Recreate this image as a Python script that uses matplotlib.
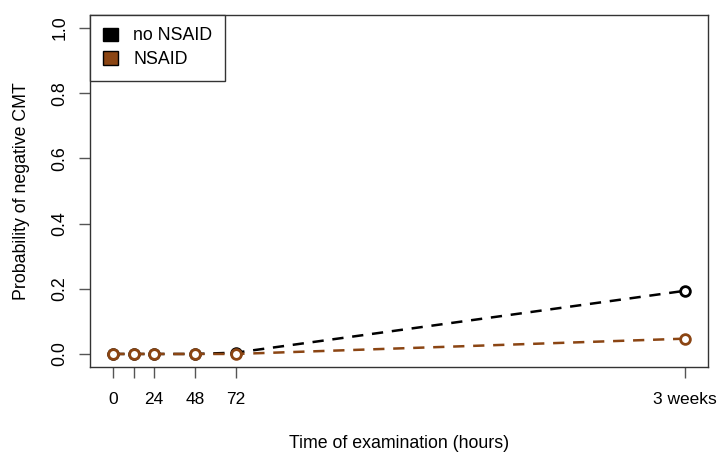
import matplotlib
matplotlib.use("Agg")
import matplotlib.pyplot as plt
from matplotlib.patches import Patch

# ====== 資料 ======
# x 位置（小時），最後一點 "3 weeks" 畫在 336 的位置
TIME_X = [0, 12, 24, 48, 72, 336]
TICK_POS = [0, 12, 24, 48, 72, 336]
TICK_LABELS = ["0", "", "24", "48", "72", "3 weeks"]
NO_NSAID = [0.0, 0.0, 0.0, 0.0, 0.004, 0.194]
NSAID = [0.0, 0.0, 0.0, 0.0, 0.0, 0.047]
BROWN = "#8B4513"

plt.rcParams['font.family'] = ['Liberation Sans', 'DejaVu Sans']
plt.rcParams['font.size'] = 12.8

fig = plt.figure(figsize=(7.17, 4.57), dpi=100)
ax = fig.add_axes([90.4 / 717, (457 - 367) / 457, (708.2 - 90.4) / 717, (367 - 15) / 457])

line_kw = dict(linestyle=(0, (4.5, 3.5)), linewidth=1.8, marker="o", markersize=7,
               markerfacecolor="white", markeredgewidth=2)
ax.plot(TIME_X, NO_NSAID, color="black", **line_kw)
ax.plot(TIME_X, NSAID, color=BROWN, **line_kw)

ax.set_xlim(-13.44, 349.44)
ax.set_ylim(-0.04, 1.04)
ax.set_xticks(TICK_POS)
ax.set_xticklabels(TICK_LABELS)
ax.set_yticks([0.0, 0.2, 0.4, 0.6, 0.8, 1.0])
ax.set_yticklabels(["0.0", "0.2", "0.4", "0.6", "0.8", "1.0"], rotation=90, va="center")
ax.tick_params(axis="both", length=8, width=1, color="#555555", pad=10)
ax.tick_params(axis="y", pad=8)
ax.tick_params(axis="x", labelsize=12.5)
for s in ax.spines.values():
    s.set_color("#333333")
    s.set_linewidth(1)

ax.set_xlabel("Time of examination (hours)", labelpad=20)
ax.set_ylabel("Probability of negative CMT", labelpad=15)

handles = [Patch(facecolor="black", edgecolor="black", label="no NSAID"),
           Patch(facecolor=BROWN, edgecolor="black", label="NSAID")]
leg = ax.legend(handles=handles, loc="upper left", borderaxespad=0, fancybox=False,
                framealpha=1, edgecolor="#333333", handlelength=0.85, handleheight=0.75,
                handletextpad=0.85, borderpad=0.7, labelspacing=0.38)
leg.get_frame().set_linewidth(1)

fig.savefig("out.png", dpi=100)
